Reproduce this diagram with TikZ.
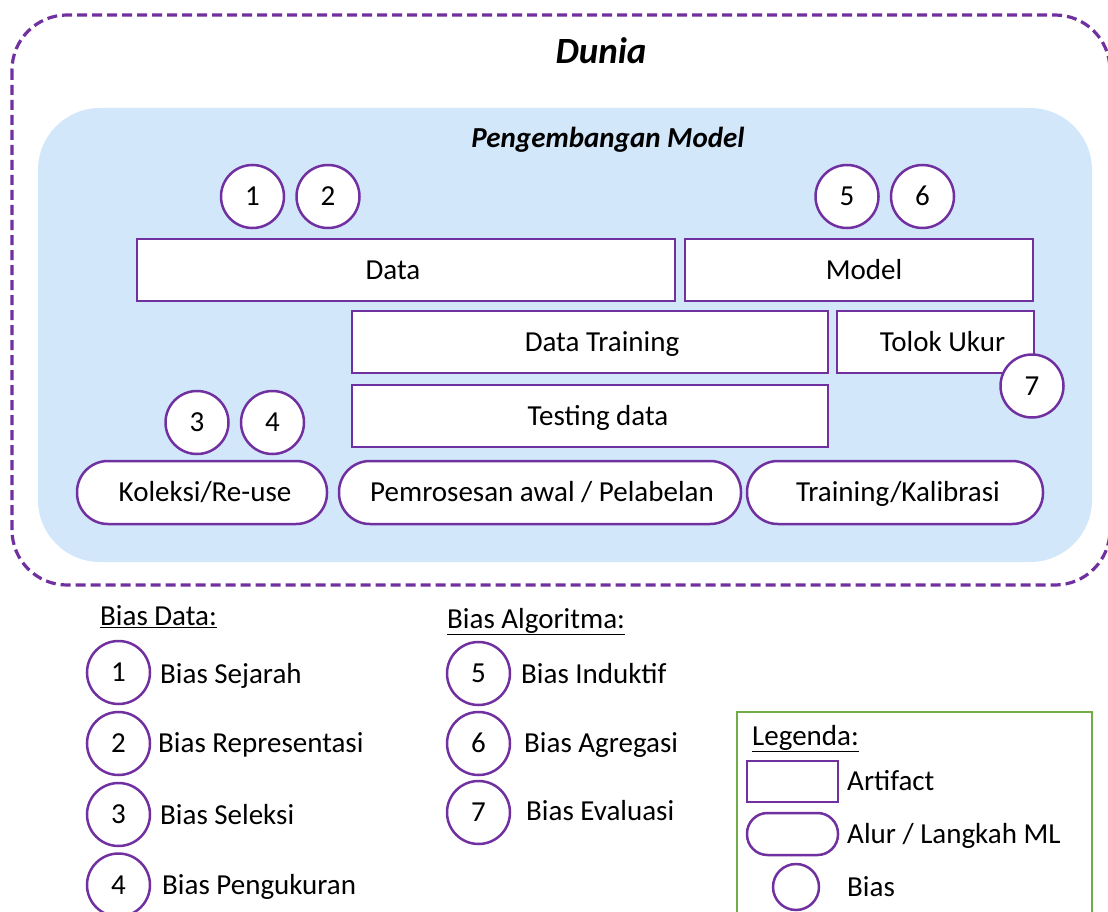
\documentclass[tikz,border=0pt]{standalone}
\usepackage{fontspec}
\setmainfont{Carlito}
\definecolor{ungu}{HTML}{7030A0}
\definecolor{birumuda}{HTML}{D3E7FB}
\definecolor{hijau}{HTML}{70AD47}
\begin{document}
\begin{tikzpicture}[x=1pt,y=-1pt,
  teks/.style={font=\fontsize{29}{34}\selectfont, text height=18.6pt, text depth=0pt, inner sep=0pt},
  artifak/.style={teks, draw=ungu, line width=2.5pt, fill=white, rectangle},
  langkah/.style={teks, draw=ungu, line width=2.5pt, fill=white, rectangle, rounded corners=31pt},
  bias/.style={teks, draw=ungu, line width=2.5pt, fill=white, circle, minimum size=63pt},
  labelkiri/.style={teks, anchor=west}
]
\useasboundingbox (0,0) rectangle (1108,912);
\clip (0,0) rectangle (1108,912);

% outer world frame
\draw[ungu, line width=3.2pt, dash pattern=on 10pt off 5pt, rounded corners=55pt]
  (12,15) rectangle (1110,585);
\node[font=\fontsize{37}{44}\selectfont\bfseries\itshape, text height=24pt, text depth=0pt, inner sep=0pt] (dunia) at (601,52) {Dunia};

% model development area
\fill[birumuda, rounded corners=62pt] (38,108) rectangle (1092,562);
\node[font=\fontsize{29}{34}\selectfont\bfseries\itshape, text height=18.6pt, text depth=0pt, inner sep=0pt] (pm) at (608,138) {Pengembangan Model};

% artifacts
\node[artifak, minimum width=538pt, minimum height=62pt] (data) at (406,270) {Data\rule{26pt}{0pt}};
\node[artifak, minimum width=348pt, minimum height=62pt] (model) at (859,270) {\hspace{10pt}Model};
\node[artifak, minimum width=476pt, minimum height=62pt] (dtrain) at (590,342) {\hspace{24pt}Data Training};
\node[artifak, minimum width=197pt, minimum height=62pt] (tolok) at (935.5,342) {\hspace{14pt}Tolok Ukur};
\node[artifak, minimum width=476pt, minimum height=62pt] (dtest) at (590,416) {\hspace{16pt}Testing data};

% ML steps
\node[langkah, minimum width=250pt, minimum height=63pt] (koleksi) at (202,492.5) {\hspace{6pt}Koleksi/Re-use};
\node[langkah, minimum width=402pt, minimum height=63pt] (proses) at (540,492.5) {\hspace{4pt}Pemrosesan awal / Pelabelan};
\node[langkah, minimum width=296pt, minimum height=63pt] (kalib) at (895,492.5) {\hspace{6pt}Training/Kalibrasi};

% bias markers
\node[bias] (b1) at (252.5,196.5) {1};
\node[bias] (b2) at (328,196.5) {2};
\node[bias] (b5) at (847,196.5) {5};
\node[bias] (b6) at (922.5,196.5) {6};
\node[bias] (b7) at (1032,386) {7};
\node[bias] (b3) at (197,422.5) {3};
\node[bias] (b4) at (272.5,422.5) {4};

% data bias list
\node[labelkiri] (hdata) at (100,616) {\underline{Bias Data:}};
\node[bias] (l1) at (118.5,672.5) {1};
\node[labelkiri] (t1) at (160,674) {Bias Sejarah};
\node[bias] (l2) at (118.5,743.5) {2};
\node[labelkiri] (t2) at (158,743) {Bias Representasi};
\node[bias] (l3) at (118.5,814.5) {3};
\node[labelkiri] (t3) at (160,815) {Bias Seleksi};
\node[bias] (l4) at (118.5,885) {4};
\node[labelkiri] (t4) at (162,885) {Bias Pengukuran};

% algorithmic bias list
\node[labelkiri] (halgo) at (447,619) {\underline{Bias Algoritma:}};
\node[bias] (l5) at (478.5,673.5) {5};
\node[labelkiri] (t5) at (521,674) {Bias Induktif};
\node[bias] (l6) at (478.5,743.5) {6};
\node[labelkiri] (t6) at (524,743) {Bias Agregasi};
\node[bias] (l7) at (478.5,812.5) {7};
\node[labelkiri] (t7) at (526,811) {Bias Evaluasi};

% legend
\draw[hijau, line width=2pt] (737,712) rectangle (1092,930);
\node[labelkiri] (hleg) at (752,736) {\underline{Legenda:}};
\node[artifak, minimum width=91pt, minimum height=41pt] (legart) at (792.5,781.5) {};
\node[labelkiri] (tart) at (847,781) {Artifact};
\node[langkah, rounded corners=20.5pt, minimum width=91pt, minimum height=42pt] (leglang) at (792.5,834) {};
\node[labelkiri] (tlang) at (847,834) {Alur / Langkah ML};
\node[bias, minimum size=46pt] (legbias) at (796,887) {};
\node[labelkiri] (tbias) at (847,887) {Bias};
\end{tikzpicture}
\end{document}
